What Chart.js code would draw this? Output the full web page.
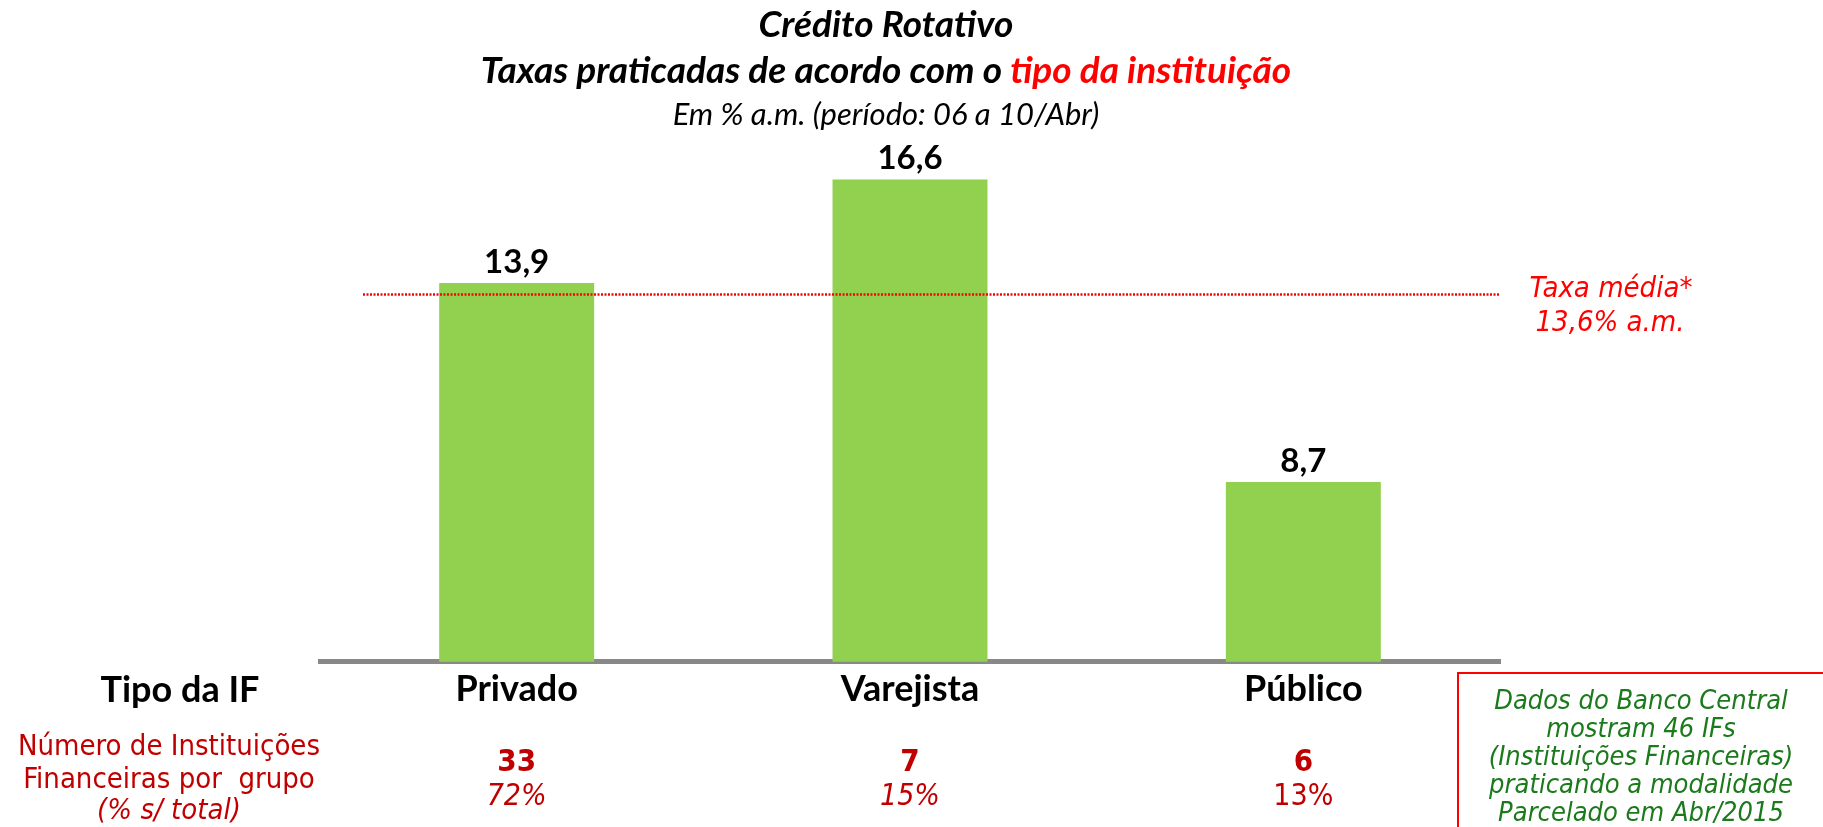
<!DOCTYPE html>
<html>
<head>
<meta charset="utf-8">
<script src="https://cdn.jsdelivr.net/npm/chart.js@4.4.0/dist/chart.umd.min.js"></script>
<style>
html, body { margin: 0; padding: 0; background: #fff; overflow: hidden; }
#wrap { position: relative; width: 1823px; height: 827px; }
</style>
</head>
<body>
<div id="wrap"><canvas id="myChart"></canvas></div>
<script>
// data
const categories = ['Privado', 'Varejista', 'Público'];
const taxas = [13.9, 16.6, 8.7];
const taxaMedia = 13.6;
const numInstituicoes = [33, 7, 6];
const pctTotal = ['72%', '15%', '13%'];
const pctItalic = [true, true, false];
const boxLines = [
    'Dados do Banco Central',
    'mostram 46 IFs',
    '(Instituições Financeiras)',
    'praticando a modalidade',
    'Parcelado em Abr/2015',
];
const leftLines = ['Número de Instituições', 'Financeiras por  grupo', '(% s/ total)'];

const CAL = 'Lato, "Open Sans", sans-serif';
const TAH = '"DejaVu Sans Condensed", "DejaVu Sans", sans-serif';
const RED = '#FF0000';
const DARKRED = '#C00000';
const GREEN = '#1B7A1B';

const fmt = (v) => v.toFixed(1).replace('.', ',');

const extras = {
    id: 'extras',
    afterDraw(chart) {
        const ctx = chart.ctx;
        const x = chart.scales.x;
        const y = chart.scales.y;
        ctx.save();
        ctx.textAlign = 'center';
        ctx.textBaseline = 'middle';

        // titles
        const cx = 886;
        ctx.fillStyle = '#000';
        ctx.font = 'italic bold 37px ' + CAL;
        ctx.fillText('Crédito Rotativo', cx, 25);
        const a = 'Taxas praticadas de acordo com o ';
        const b = 'tipo da instituição';
        const wa = ctx.measureText(a).width;
        const wb = ctx.measureText(b).width;
        ctx.textAlign = 'left';
        ctx.fillText(a, cx - (wa + wb) / 2, 71);
        ctx.fillStyle = RED;
        ctx.fillText(b, cx - (wa + wb) / 2 + wa, 71);
        ctx.textAlign = 'center';
        ctx.fillStyle = '#000';
        ctx.font = 'italic 31px ' + CAL;
        ctx.fillText('Em % a.m. (período: 06 a 10/Abr)', cx, 115);

        // average line
        const ym = y.getPixelForValue(taxaMedia);
        ctx.strokeStyle = RED;
        ctx.lineWidth = 2.5;
        ctx.setLineDash([2, 1.5]);
        ctx.beginPath();
        ctx.moveTo(363, ym);
        ctx.lineTo(1500, ym);
        ctx.stroke();
        ctx.setLineDash([]);
        ctx.fillStyle = RED;
        ctx.font = 'italic 29px ' + TAH;
        ctx.fillText('Taxa média*', 1611, 289);
        ctx.fillText(fmt(taxaMedia) + '% a.m.', 1610, 323);

        // bar values
        ctx.fillStyle = '#000';
        ctx.font = 'bold 33px ' + CAL;
        chart.getDatasetMeta(0).data.forEach((bar, i) => {
            ctx.fillText(fmt(taxas[i]), bar.x, bar.y - 21);
        });

        // row headers
        ctx.font = 'bold 36px ' + CAL;
        ctx.fillText('Tipo da IF', 180, 690);
        ctx.fillStyle = DARKRED;
        ctx.font = '29px ' + TAH;
        ctx.fillText(leftLines[0], 169, 747);
        ctx.fillText(leftLines[1], 169, 780);
        ctx.font = 'italic 29px ' + TAH;
        ctx.fillText(leftLines[2], 169, 811);

        // counts and shares
        categories.forEach((c, i) => {
            const px = x.getPixelForValue(i);
            ctx.fillStyle = DARKRED;
            ctx.font = 'bold 31px ' + TAH;
            ctx.fillText(String(numInstituicoes[i]), px, 763);
            ctx.font = (pctItalic[i] ? 'italic ' : '') + '30px ' + TAH;
            ctx.fillText(pctTotal[i], px, 797);
        });

        // note box
        ctx.strokeStyle = RED;
        ctx.lineWidth = 2;
        ctx.strokeRect(1458, 673, 500, 200);
        ctx.fillStyle = GREEN;
        ctx.font = 'italic 27px ' + TAH;
        boxLines.forEach((t, i) => ctx.fillText(t, 1641, 702 + i * 28));
        ctx.restore();
    }
};

const myChart = new Chart(document.getElementById('myChart').getContext('2d'), {
    type: 'bar',
    data: {
        labels: categories,
        datasets: [
            {
                data: taxas,
                backgroundColor: '#92D050',
                barPercentage: 0.394,
                categoryPercentage: 1,
            },
        ],
    },
    options: {
        responsive: true,
        maintainAspectRatio: false,
        animation: false,
        layout: { padding: { left: 320, right: 323, top: 126, bottom: 110 } },
        plugins: { legend: { display: false }, tooltip: { enabled: false }, title: { display: false } },
        scales: {
            x: {
                grid: { display: false, drawTicks: false },
                border: { color: '#888888', width: 5 },
                ticks: {
                    color: '#000',
                    font: { family: CAL, size: 36, weight: 'bold' },
                    padding: 6,
                    maxRotation: 0,
                    autoSkip: false,
                },
            },
            y: { display: false, min: 4, max: 18 },
        },
    },
    plugins: [extras],
});
</script>
</body>
</html>
